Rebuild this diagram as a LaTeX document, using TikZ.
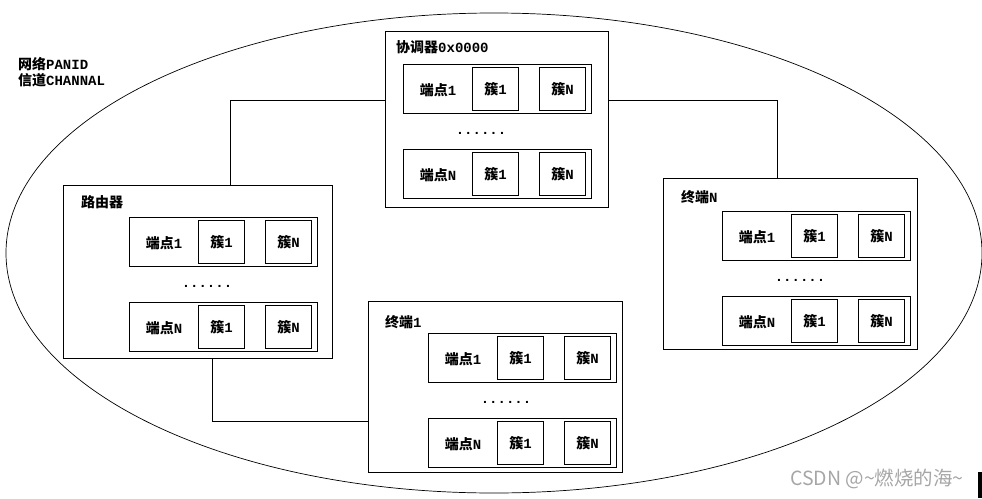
\documentclass[tikz,border=0pt]{standalone}
\usepackage{fontspec}
\setmainfont{Liberation Mono}
\newfontfamily\cjk{Noto Sans CJK SC}
\usetikzlibrary{positioning}
\newcommand\zh[1]{{\cjk #1}}

\begin{document}
\begin{tikzpicture}[
  x=1pt,y=-1pt,
  lbl/.style={font=\bfseries\fontsize{14}{16}\selectfont,inner sep=0pt},
  devbox/.style={draw,line width=1pt,anchor=north west,inner sep=0pt},
  epbox/.style={draw,line width=1pt,anchor=north west,inner sep=0pt,minimum width=188pt,minimum height=49pt},
  clbox/.style={lbl,draw,line width=1pt,anchor=north west,minimum width=46pt,minimum height=43pt},
  link/.style={line width=.9pt},
  netline/.style={line width=.7pt}
]
  \useasboundingbox (0,0) rectangle (982,498);

  % the network
  \draw[netline] (494,253) ellipse [x radius=488, y radius=240];
  \node[lbl,anchor=north west,align=left] (net) at (18,57)
    {\zh{网络}PANID\\\zh{信道}CHANNAL};

  % devices: name/box/title/first endpoint
  \foreach \n/\ox/\oy/\ow/\oh/\tx/\ty/\ix/\iy/\ttl in {
    coord/385/31/223/176/396/47/403/64/{\zh{协调器}0x0000},
    router/63/185/269/173/81/202/129/217/{\zh{路由器}},
    endN/663/178/254/171/681/197/722/211/{\zh{终端}N},
    endA/368/301/254/171/385/322/428/333/{\zh{终端}1}}{
    \node[devbox,minimum width=\ow pt,minimum height=\oh pt] (\n) at (\ox,\oy) {};
    \node[lbl,anchor=west] (\n-t) at (\tx,\ty) {\ttl};
    \foreach \r/\dy/\lab in {1/0/{\zh{端点}1},2/85/{\zh{端点}N}}{
      \node[epbox] (\n-e\r) at (\ix,\iy+\dy) {};
      \node[lbl] (\n-e\r-l) at (\ix+35,\iy+\dy+26) {\lab};
      \node[clbox] (\n-e\r-c1) at (\ix+69,\iy+\dy+3) {\zh{簇}1};
      \node[clbox] (\n-e\r-cN) at (\ix+136,\iy+\dy+3) {\zh{簇}N};
    }
    \node[lbl] (\n-dots) at (\ix+78,\iy+69) {......};
  }

  % links
  \draw[link] ([yshift=19pt]coord.west) -| ([xshift=32.5pt]router.north);
  \draw[link] ([yshift=19pt]coord.east) -| ([xshift=-13pt]endN.north);
  \draw[link] ([xshift=14.5pt]router.south) |- ([yshift=-34.5pt]endA.west);

  % watermark
  \node[font=\cjk\fontsize{19.5}{21}\selectfont,text=gray!70,inner sep=0pt] (mark) at (877,479)
    {CSDN @\textasciitilde 燃烧的海\textasciitilde};
  \fill (978,472) rectangle (982,498);
\end{tikzpicture}
\end{document}
